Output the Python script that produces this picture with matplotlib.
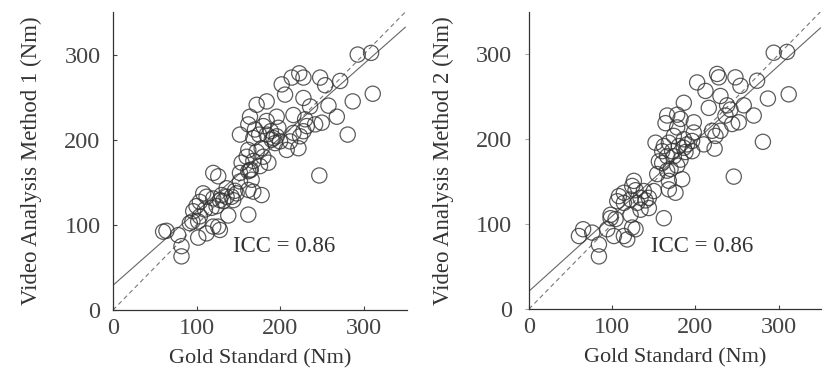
import numpy as np
import matplotlib
matplotlib.use("Agg")
import matplotlib.pyplot as plt

plt.rcParams['font.family'] = ['Liberation Serif', 'DejaVu Serif']

# Gold standard vs video analysis method 1 (Nm)
gold_1 = [293, 309, 311, 287, 281, 268, 272, 258, 254, 248, 247, 250, 242, 236, 228, 230,
          228, 223, 228, 214, 202, 206, 216, 222, 208, 196, 184, 172, 164, 162, 152, 184,
          180, 175, 168, 184, 190, 196, 189, 200, 162, 172, 180, 186, 176, 168, 160, 154,
          164, 162, 152, 162, 168, 178, 166, 152, 148, 142, 144, 136, 130, 136, 126, 120,
          128, 120, 112, 108, 118, 124, 138, 162, 104, 100, 96, 104, 95, 102, 92, 102,
          112, 120, 128, 126, 60, 64, 78, 82, 82, 198, 216, 224, 232, 212, 194, 170,
          165, 178, 192, 146, 132, 110]
video_1 = [300, 302, 254, 245, 206, 227, 269, 240, 264, 273, 158, 220, 218, 239, 249, 224,
           210, 278, 273, 273, 265, 253, 229, 190, 188, 227, 245, 241, 227, 218, 206, 222,
           216, 206, 202, 206, 200, 204, 210, 198, 188, 186, 180, 173, 169, 175, 180, 173,
           164, 163, 161, 141, 139, 135, 153, 151, 137, 133, 129, 133, 135, 143, 157, 161,
           129, 131, 133, 137, 120, 122, 111, 112, 127, 122, 116, 110, 104, 104, 102, 85,
           90, 98, 94, 98, 92, 93, 88, 75, 63, 214, 208, 204, 216, 198, 196, 212,
           165, 190, 202, 140, 128, 118]

# Gold standard vs video analysis method 2 (Nm)
gold_2 = [294, 310, 312, 287, 281, 270, 274, 258, 254, 248, 246, 252, 244, 238, 230, 226,
          228, 212, 202, 216, 230, 224, 223, 210, 198, 186, 178, 166, 164, 152, 182, 178,
          174, 168, 162, 186, 190, 196, 180, 166, 174, 182, 178, 170, 160, 156, 166, 154,
          168, 184, 176, 168, 150, 144, 138, 134, 126, 124, 130, 122, 114, 108, 114, 106,
          144, 134, 122, 162, 98, 104, 98, 94, 102, 114, 118, 128, 124, 65, 60, 76,
          84, 84, 196, 198, 220, 236, 242, 188, 160, 172, 186, 140, 128]
video_2 = [302, 303, 253, 248, 197, 228, 269, 240, 263, 273, 156, 220, 218, 240, 251, 277,
           273, 257, 267, 237, 210, 204, 189, 194, 220, 243, 229, 228, 219, 196, 224, 214,
           204, 196, 192, 200, 194, 198, 192, 180, 180, 176, 169, 165, 172, 174, 163, 159,
           151, 153, 137, 141, 139, 131, 139, 131, 151, 145, 125, 129, 137, 133, 125, 127,
           119, 117, 111, 107, 111, 106, 107, 94, 86, 86, 82, 94, 96, 94, 86, 90,
           76, 62, 186, 208, 210, 228, 235, 185, 186, 186, 190, 128, 140]

# regression lines: (slope, intercept)
fit_1 = (0.866, 29)
fit_2 = (0.886, 21)
icc_text = "ICC = 0.86"
x_label = "Gold Standard (Nm)"
y_labels = ["Video Analysis Method 1 (Nm)", "Video Analysis Method 2 (Nm)"]
ticks = [0, 100, 200, 300]

fig = plt.figure(figsize=(8.22, 3.73), dpi=100)
ax1 = fig.add_axes([113 / 822, 63 / 373, 294 / 822, 298 / 373])
ax2 = fig.add_axes([529 / 822, 64 / 373, 293 / 822, 297 / 373])

panels = [(ax1, gold_1, video_1, fit_1, y_labels[0], (144, 74)),
          (ax2, gold_2, video_2, fit_2, y_labels[1], (147, 74))]

for ax, gx, vy, fit, ylab, icc_pos in panels:
    xs = np.array([0, 350])
    ax.plot(xs, xs, ls=(0, (4, 3)), color='#777777', lw=0.8, zorder=1)
    ax.plot(xs, fit[0] * xs + fit[1], color='#666666', lw=0.8, zorder=1)
    ax.scatter(gx, vy, s=120, facecolors='none', edgecolors='#333333',
               linewidths=0.9, alpha=0.8, zorder=2)
    ax.text(icc_pos[0], icc_pos[1], icc_text, fontsize=16.5, color='#333333', va='center')
    ax.set_xlim(0, 352)
    ax.set_ylim(0, 350)
    ax.set_xticks(ticks)
    ax.set_yticks(ticks)
    ax.set_xlabel(x_label, fontsize=16, color='#333333', labelpad=7)
    ax.set_ylabel(ylab, fontsize=16.5, color='#333333', labelpad=16)
    for side in ['top', 'right']:
        ax.spines[side].set_visible(False)
    for side in ['left', 'bottom']:
        ax.spines[side].set_color('#333333')
        ax.spines[side].set_linewidth(0.9)
    ax.tick_params(labelsize=17.5, colors='#444444', length=3, width=0.8, direction='in', pad=9)
    ax.tick_params(axis='x', pad=6)

ax2.tick_params(axis='y', direction='out', color='#aaaaaa')

fig.savefig("out.png", dpi=100)
